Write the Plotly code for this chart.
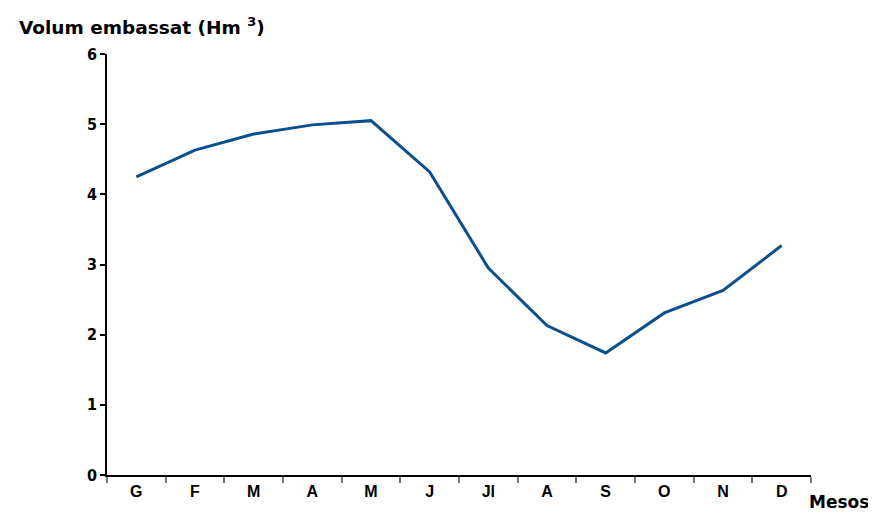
import plotly.graph_objects as go

months = ["G", "F", "M", "A", "M ", "J", "Jl", "A ", "S", "O", "N", "D"]
tick_text = ["G", "F", "M", "A", "M", "J", "Jl", "A", "S", "O", "N", "D"]
volume = [4.25, 4.63, 4.86, 4.99, 5.05, 4.32, 2.95, 2.13, 1.74, 2.31, 2.63, 3.27]
y_ticks = [0, 1, 2, 3, 4, 5, 6]

fig = go.Figure()
fig.add_trace(go.Scatter(
    x=months, y=volume, mode="lines",
    line=dict(color="#0B4F8C", width=3),
    hoverinfo="skip", showlegend=False,
))

fig.update_layout(
    width=868, height=505,
    margin=dict(l=99, r=65, t=46, b=38),
    paper_bgcolor="white", plot_bgcolor="white",
    xaxis=dict(
        type="category", categoryorder="array", categoryarray=months,
        tickmode="array", tickvals=months, ticktext=tick_text,
        range=[-0.5, 11.5], tickson="boundaries",
        showline=True, linecolor="black", linewidth=1.5,
        ticks="outside", ticklen=6, tickcolor="#777777", tickwidth=1.5,
        showgrid=False, zeroline=False,
        tickfont=dict(family="Liberation Sans", size=16, color="black", weight="bold"),
        ticklabelstandoff=1,
    ),
    yaxis=dict(
        range=[0, 6], tickmode="array", tickvals=y_ticks,
        showline=True, linecolor="black", linewidth=1.5,
        ticks="outside", ticklen=5, tickcolor="black", tickwidth=1.5,
        showgrid=False, zeroline=False,
        tickfont=dict(family="DejaVu Sans Condensed, Liberation Sans", size=16, color="black", weight="bold"),
        ticklabelstandoff=0,
    ),
    annotations=[
        dict(text="Volum embassat (Hm <sup>3</sup>)", xref="paper", yref="paper",
             x=-0.128, y=1.066, xanchor="left", yanchor="middle", showarrow=False,
             font=dict(family="DejaVu Sans", size=18.5, color="black", weight="bold")),
        dict(text="Mesos", xref="paper", yref="paper",
             x=0.995, y=-0.035, xanchor="left", yanchor="top", showarrow=False,
             font=dict(family="DejaVu Sans", size=17, color="black", weight="bold")),
    ],
)

fig.write_html("out.html")
